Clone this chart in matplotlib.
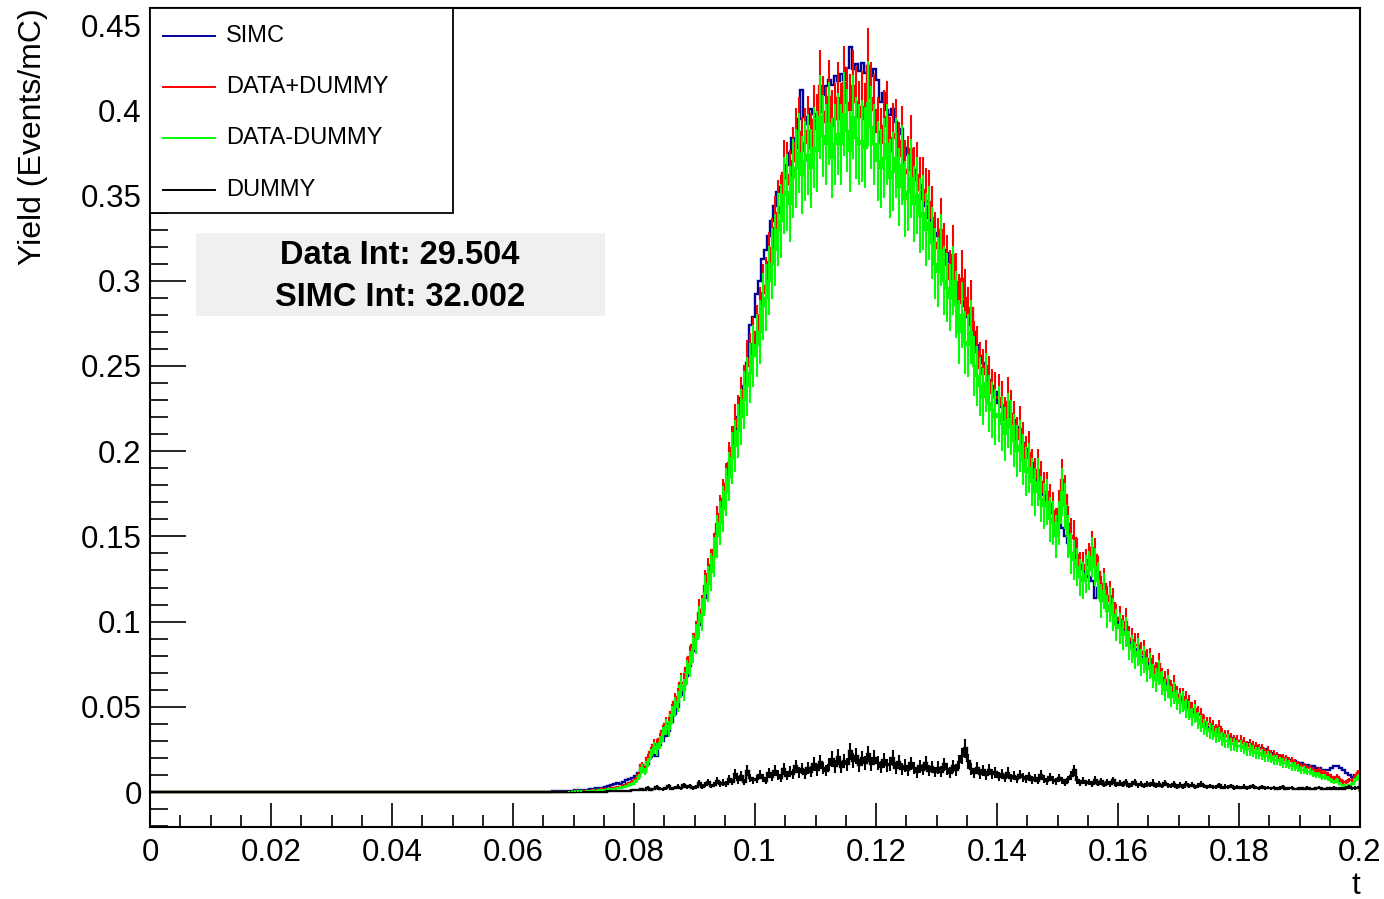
import matplotlib

matplotlib.use("Agg")
import matplotlib.pyplot as plt
import numpy as np
from matplotlib.patches import Rectangle
from matplotlib.ticker import MultipleLocator, FuncFormatter

plt.rcParams["font.family"] = ["Liberation Sans", "DejaVu Sans"]

# histogram: 400 bins of width 0.0005 on t in [0, 0.2]; the first 130 bins are empty
t_lo, t_hi, n_bins = 0.0, 0.2, 400
n_empty = 130

# yields from t = 0.065 on, in units of 1e-3 Events/mC (10 bins per row)
simc = [
    0.2, 0.3, 0.3, 0.4, 0.5, 0.5, 0.6, 0.7, 0.8, 0.9,
    1.0, 1.2, 1.3, 1.4, 1.5, 1.8, 1.9, 2.2, 2.4, 2.6,
    2.9, 3.3, 3.9, 4.6, 5.2, 4.8, 5.9, 6.8, 7.4, 8.2,
    9.5, 11.0, 12.3, 11.8, 16.5, 20.5, 22.0, 21.0, 27.5, 30.0,
    33, 36, 41, 46, 50, 57, 62, 68, 74, 83,
    92, 98, 107, 114, 125, 132, 140, 152, 160, 172,
    181, 190, 199, 212, 220, 231, 238, 252, 274, 279,
    292, 300, 313, 318, 326, 335, 344, 352, 355, 360,
    368, 375, 384, 378, 395, 412, 396, 392, 401, 398,
    396, 402, 409, 414, 418, 415, 420, 417, 421, 418,
    425, 437, 424, 427, 423, 428, 422, 426, 420, 424,
    418, 405, 410, 400, 397, 401, 393, 386, 389, 378,
    374, 370, 365, 360, 356, 348, 344, 337, 330, 328,
    326, 321, 318, 316, 311, 304, 298, 294, 288, 285,
    279, 274, 270, 262, 256, 252, 246, 242, 238, 235,
    228, 226, 224, 222, 220, 218, 214, 210, 205, 201,
    197, 193, 185, 180, 178, 174, 168, 166, 164, 160,
    157, 155, 150, 146, 140, 138, 135, 133, 131, 128,
    126, 124, 114, 120, 118, 112, 110, 109, 106, 102,
    97, 95, 93, 90, 87, 84, 81, 79, 78, 76,
    75, 72, 70, 67, 66, 64, 62, 60, 59, 57,
    56, 54, 52, 50, 47, 45, 42, 41, 40, 38,
    37, 36, 36, 35, 34, 33, 33, 32, 31, 30,
    30, 29, 29, 28, 27, 27, 26, 26, 25, 24,
    23, 22, 22, 21, 20, 20, 19, 18, 18, 17,
    17, 16, 16, 15, 15, 14, 14, 13, 13, 13,
    14, 15, 15, 14, 13, 11, 10, 9, 10, 11,
]

data_plus_dummy = [
    0.0, 0.0, 0.1, 0.1, 0.1, 0.2, 0.2, 0.2, 0.3, 0.3,
    0.4, 0.4, 0.6, 0.7, 0.8, 0.9, 1.1, 1.2, 1.4, 1.6,
    1.8, 2.0, 2.2, 2.5, 2.9, 3.1, 3.8, 4.2, 5.1, 6.0,
    7.7, 10.0, 15.6, 13.3, 19.9, 23.5, 27.8, 28.0, 31.0, 35.6,
    40, 40, 47, 53, 56, 64, 64, 73, 79, 86,
    93, 105, 107, 121, 128, 133, 142, 157, 163, 172,
    181, 193, 202, 214, 219, 229, 236, 250, 254, 263,
    270, 280, 293, 297, 311, 319, 331, 340, 343, 363,
    362, 357, 370, 381, 387, 376, 381, 388, 378, 394,
    389, 414, 399, 393, 408, 391, 395, 407, 395, 416,
    404, 400, 414, 405, 396, 402, 395, 426, 407, 400,
    387, 381, 391, 396, 376, 384, 386, 373, 382, 363,
    365, 377, 359, 362, 353, 353, 347, 346, 337, 322,
    319, 330, 316, 309, 301, 315, 299, 287, 301, 290,
    280, 284, 261, 258, 249, 245, 250, 241, 234, 232,
    231, 227, 218, 229, 222, 216, 207, 213, 204, 196,
    199, 189, 184, 189, 182, 176, 176, 169, 165, 156,
    166, 183, 174, 157, 150, 149, 139, 131, 131, 133,
    136, 143, 139, 129, 118, 122, 112, 115, 111, 102,
    101, 96, 100, 90, 89, 86, 86, 81, 82, 77,
    78, 74, 70, 75, 67, 65, 66, 60, 63, 57,
    56, 56, 54, 52, 48, 49, 46, 45, 41, 40,
    40, 38, 36, 38, 34, 33, 33, 31, 30, 30,
    30, 29, 27, 28, 27, 26, 25, 25, 23, 24,
    22, 22, 21, 20, 20, 19, 18, 18, 17, 16,
    15, 15, 14, 14, 13, 12, 13, 11, 11, 10,
    9, 8, 9, 7, 6, 6, 7, 7, 9, 11,
]

data_minus_dummy = [
    0.0, 0.0, 0.1, 0.1, 0.1, 0.2, 0.2, 0.2, 0.3, 0.3,
    0.4, 0.4, 0.5, 0.6, 0.7, 0.8, 0.9, 1.0, 1.2, 1.3,
    1.5, 1.6, 1.8, 2.0, 2.3, 2.6, 3.0, 3.5, 4.2, 5.0,
    6.5, 9.0, 14.0, 12.0, 17.5, 22.0, 26.0, 25.0, 29.0, 34.0,
    38, 37, 45, 50, 53, 62, 60, 70, 75, 84,
    90, 100, 104, 117, 122, 129, 138, 150, 158, 166,
    176, 185, 196, 203, 212, 220, 230, 238, 246, 256,
    262, 270, 285, 290, 300, 310, 318, 330, 335, 350,
    352, 345, 360, 366, 375, 362, 370, 374, 366, 378,
    376, 396, 385, 380, 392, 372, 380, 386, 380, 398,
    388, 376, 396, 384, 380, 382, 378, 404, 390, 380,
    370, 366, 372, 380, 360, 364, 372, 355, 368, 348,
    352, 360, 345, 350, 338, 340, 330, 334, 322, 310,
    305, 318, 300, 296, 290, 300, 286, 270, 280, 264,
    262, 270, 250, 244, 238, 232, 240, 228, 224, 220,
    222, 216, 210, 218, 214, 206, 200, 203, 195, 188,
    190, 182, 176, 182, 172, 168, 170, 160, 158, 150,
    158, 176, 168, 150, 140, 136, 132, 126, 124, 128,
    130, 138, 132, 124, 112, 118, 106, 110, 104, 98,
    96, 92, 94, 86, 84, 80, 82, 76, 78, 72,
    74, 68, 66, 70, 64, 60, 62, 56, 58, 54,
    52, 53, 49, 48, 44, 46, 42, 40, 38, 37,
    36, 35, 33, 34, 31, 30, 30, 28, 28, 27,
    27, 26, 25, 25, 24, 23, 23, 22, 21, 21,
    20, 19, 19, 18, 17, 17, 16, 15, 15, 14,
    13, 13, 12, 12, 11, 10, 10, 9, 9, 8,
    7, 6, 7, 5, 4, 3, 4, 5, 7, 9,
]

dummy = [
    0.0, 0.0, 0.0, 0.0, 0.0, 0.0, 0.0, 0.0, 0.0, 0.0,
    0.0, 0.0, 0.1, 0.1, 0.1, 0.1, 0.2, 0.2, 0.2, 0.3,
    0.3, 0.4, 0.4, 0.5, 0.6, 0.5, 0.8, 0.7, 0.9, 1.0,
    1.2, 1.0, 1.6, 1.3, 2.4, 1.5, 1.8, 3.0, 2.0, 1.6,
    2.2, 3.4, 2.0, 2.6, 3.2, 2.2, 4.0, 2.8, 3.6, 2.4,
    3.0, 5.2, 3.2, 4.4, 5.8, 3.6, 4.2, 6.6, 4.8, 5.6,
    4.6, 7.8, 6.0, 10.5, 7.0, 9.4, 5.8, 12.4, 8.2, 6.8,
    7.6, 10.2, 8.4, 6.6, 11.2, 9.0, 12.6, 10.0, 8.2, 13.4,
    9.6, 12.0, 10.4, 15.2, 11.6, 13.8, 10.6, 14.2, 12.0, 16.4,
    13.0, 17.8, 14.2, 12.6, 16.0, 19.4, 15.0, 20.6, 14.8, 18.2,
    16.2, 23.8, 18.4, 21.0, 15.6, 19.8, 17.2, 22.4, 16.6, 20.2,
    17.0, 14.8, 18.6, 15.8, 16.4, 20.0, 14.2, 17.6, 13.6, 15.4,
    12.8, 16.8, 14.0, 11.6, 15.2, 13.2, 17.0, 12.4, 14.6, 11.8,
    14.4, 12.0, 16.2, 13.4, 11.4, 15.0, 13.0, 17.4, 21.0, 25.6,
    18.0, 13.6, 11.2, 14.0, 10.6, 12.8, 9.8, 13.2, 10.4, 11.6,
    9.0, 10.8, 8.4, 11.4, 8.0, 9.6, 7.4, 10.2, 8.6, 7.8,
    9.2, 7.0, 8.4, 6.6, 10.0, 7.6, 6.4, 8.8, 7.2, 6.2,
    8.0, 6.8, 5.6, 7.4, 9.6, 12.8, 7.0, 5.4, 6.6, 5.2,
    6.0, 4.8, 7.2, 5.0, 6.4, 4.4, 5.8, 4.6, 6.8, 4.2,
    5.4, 4.4, 6.0, 3.8, 4.6, 5.8, 4.0, 5.0, 3.6, 4.8,
    4.2, 5.6, 3.8, 4.8, 3.4, 5.2, 4.0, 3.6, 4.6, 3.2,
    4.4, 3.2, 5.0, 3.6, 4.2, 3.0, 3.8, 4.6, 3.4, 2.8,
    3.6, 2.8, 3.0, 4.0, 2.6, 3.2, 2.8, 3.4, 2.4, 3.0,
    2.6, 3.2, 2.4, 2.8, 3.4, 2.6, 2.2, 2.8, 2.4, 2.6,
    2.2, 2.6, 2.0, 2.4, 2.8, 2.0, 2.2, 2.6, 1.8, 2.0,
    2.2, 1.8, 2.4, 2.0, 1.8, 2.2, 2.6, 2.0, 1.8, 2.2,
    2.0, 2.4, 1.8, 2.2, 2.0, 2.6, 2.8, 2.2, 2.4, 2.6,
]

labels = ["SIMC", "DATA+DUMMY", "DATA-DUMMY", "DUMMY"]
colors = ["#000099", "#ff0000", "#00ff00", "#000000"]
# error-bar scale (err = scale * yield**0.7); SIMC drawn without errors
err_scale = [0.0, 0.040, 0.047, 0.07]
data_int = 29.504
simc_int = 32.002

edges = np.linspace(t_lo, t_hi, n_bins + 1)
centers = 0.5 * (edges[:-1] + edges[1:])


def full(vals):
    v = np.asarray(vals, dtype=float) / 1000.0
    return np.concatenate([np.zeros(n_empty), v])


series = [full(simc), full(data_plus_dummy), full(data_minus_dummy), full(dummy)]

fig = plt.figure(figsize=(13.84, 8.99), dpi=100)
ax = fig.add_axes([150 / 1384, 1 - 827 / 899, 1210 / 1384, 819 / 899])

for vals, col, es in zip(series, colors, err_scale):
    ax.stairs(vals, edges, color=col, lw=1.7)
    if es > 0:
        err = es * vals ** 0.7
        m = vals > 0
        ax.vlines(centers[m], (vals - err)[m], (vals + err)[m], color=col, lw=1.5)

ax.set_xlim(0, 0.2)
ax.set_ylim(-0.0205, 0.46)

fmt = FuncFormatter(lambda v, p: "%g" % round(v, 4))
ax.xaxis.set_major_locator(MultipleLocator(0.02))
ax.xaxis.set_minor_locator(MultipleLocator(0.005))
ax.yaxis.set_major_locator(MultipleLocator(0.05))
ax.yaxis.set_minor_locator(MultipleLocator(0.01))
ax.xaxis.set_major_formatter(fmt)
ax.yaxis.set_major_formatter(fmt)
ax.tick_params(axis="both", which="both", direction="in", width=1.2, labelsize=22.5,
               top=False, right=False)
ax.tick_params(axis="y", which="major", length=26, pad=6)
ax.tick_params(axis="y", which="minor", length=13)
ax.tick_params(axis="x", which="major", length=17, pad=8)
ax.tick_params(axis="x", which="minor", length=8.5)
for s in ax.spines.values():
    s.set_linewidth(1.5)

# legend box (ROOT style)
ax.add_patch(Rectangle((0.0, 0.7497), 0.2504, 0.2503, transform=ax.transAxes,
                       facecolor="white", edgecolor="black", lw=1.3, zorder=5))
rows = [0.9658, 0.9035, 0.8413, 0.7778]
for lab, col, yy in zip(labels, colors, rows):
    ax.plot([0.0107, 0.0537], [yy, yy], color=col, lw=1.4, transform=ax.transAxes,
            zorder=6)
    ax.text(0.0628, yy, lab, transform=ax.transAxes, fontsize=17, va="center",
            ha="left", zorder=6)

# integral box
ax.add_patch(Rectangle((0.038, 0.624), 0.338, 0.1013, transform=ax.transAxes,
                       facecolor="#f0f0f0", edgecolor="none", zorder=5))
ax.text(0.2066, 0.6984, "Data Int: %.3f" % data_int, transform=ax.transAxes,
        fontsize=23.5, fontweight="bold", ha="center", va="center", zorder=6)
ax.text(0.2066, 0.6471, "SIMC Int: %.3f" % simc_int, transform=ax.transAxes,
        fontsize=23.5, fontweight="bold", ha="center", va="center", zorder=6)

fig.text(33 / 1384, 1 - 8 / 899, "Yield (Events/mC)", rotation=90, fontsize=23,
         ha="center", va="top")
fig.text(1360 / 1384, 1 - 886 / 899, "t", fontsize=22.5, ha="right", va="center")

fig.savefig("out.png", dpi=100)
